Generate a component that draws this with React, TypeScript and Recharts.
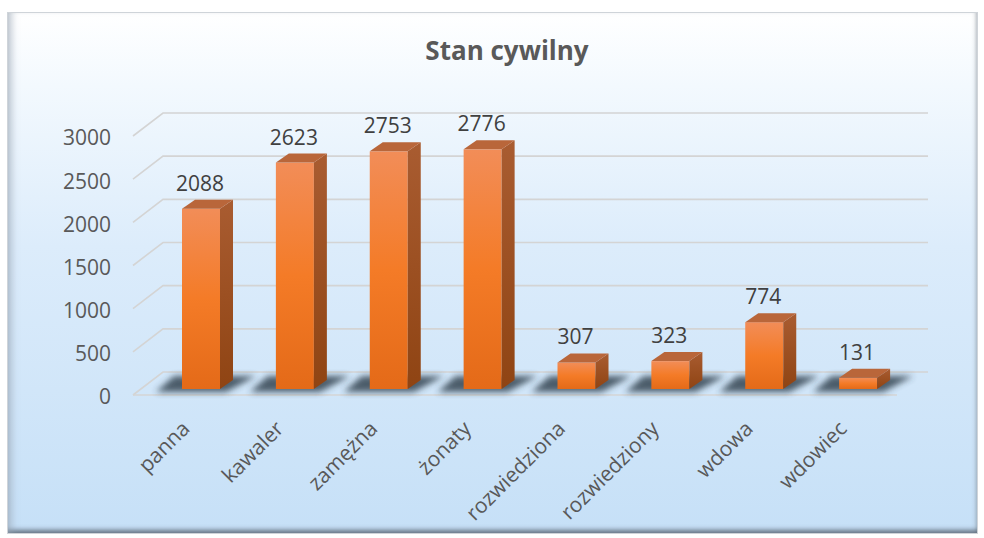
import React from "react";
import { BarChart, Bar, XAxis, YAxis, CartesianGrid, LabelList } from "recharts";

const categories = ["panna", "kawaler", "zamężna", "żonaty", "rozwiedziona", "rozwiedziony", "wdowa", "wdowiec"];
const counts = [2088, 2623, 2753, 2776, 307, 323, 774, 131];
const yTicks = [0, 500, 1000, 1500, 2000, 2500, 3000];
const title = "Stan cywilny";

const data = categories.map((c, i) => ({ name: c, value: counts[i] }));

const FONT = "'Open Sans', 'Noto Sans', sans-serif";
const DX = 13;
const DY = 9;
const LIFT = 6;

const Bar3D = (props: any) => {
  const { x, y, width, height } = props;
  const fy = y - LIFT;
  const by = y + height - LIFT;
  const sy = by + 3;
  return (
    <g>
      <polygon
        points={`${x - 26},${sy} ${x + width + 6},${sy} ${x + width + 36},${sy - 16} ${x - 8},${sy - 16}`}
        fill="#2c3a47"
        opacity={0.8}
        filter="url(#shadowBlur)"
      />
      <rect x={x} y={fy} width={width} height={Math.max(height, 0)} fill="url(#frontGrad)" />
      <polygon
        points={`${x + width},${fy} ${x + width + DX},${fy - DY} ${x + width + DX},${by - DY} ${x + width},${by}`}
        fill="url(#sideGrad)"
      />
      <polygon
        points={`${x},${fy} ${x + DX},${fy - DY} ${x + width + DX},${fy - DY} ${x + width},${fy}`}
        fill="#b9663a"
      />
    </g>
  );
};

const GridLine = (p: any) => {
  const { x1, x2, y1 } = p;
  const isZero = Math.abs(y1 - 395) < 2;
  return (
    <g key={`g-${y1}`}>
      <path
        d={`M${x1 - 21},${y1} L${x1 + 9},${y1 - 23} L${x2 + 23},${y1 - 23}`}
        stroke="#d4d4d4"
        strokeWidth={1.6}
        fill="none"
      />
      {isZero && (
        <path d={`M${x1 - 21},${y1} L${x2 - 8},${y1}`} stroke="#d4d4d4" strokeWidth={1.6} fill="none" />
      )}
    </g>
  );
};

const YTick = (p: any) => {
  const { y, payload } = p;
  return (
    <text x={111} y={y + 2} dy="0.35em" textAnchor="end" fill="#595959" fontSize={21} fontFamily={FONT}>
      {payload.value}
    </text>
  );
};

const XTick = (p: any) => {
  const { x, payload } = p;
  const ax = x - 10;
  const ay = 430;
  return (
    <text
      x={ax}
      y={ay}
      textAnchor="end"
      fill="#595959"
      fontSize={21}
      fontFamily={FONT}
      transform={`rotate(-45 ${ax} ${ay})`}
    >
      {payload.value}
    </text>
  );
};

const ValueLabel = (p: any) => {
  const { x, y, width, value } = p;
  return (
    <text x={x + width / 2 - 1} y={y - 24} textAnchor="middle" fill="#404040" fontSize={21} fontFamily={FONT}>
      {value}
    </text>
  );
};

export default function App() {
  return (
    <div style={{ position: "relative", width: 984, height: 538, background: "#ffffff" }}>
      <style>{`body{margin:0;}`}</style>
      <div
        style={{
          position: "absolute",
          left: 7,
          top: 12,
          width: 971,
          height: 522,
          boxSizing: "border-box",
          border: "1px solid #cfd4d9",
          background: "linear-gradient(180deg, #ffffff 0%, #f3f9fe 14%, #dcecfb 45%, #c6e0f7 100%)",
          boxShadow:
            "inset 9px 0 7px -5px rgba(150,162,176,0.55), inset 0 -6px 5px -3px rgba(70,80,92,0.75), inset -4px 0 4px -3px rgba(120,130,140,0.5)",
        }}
      />
      <div
        style={{
          position: "absolute",
          left: 0,
          width: 984,
          top: 32,
          textAlign: "center",
          paddingLeft: 30,
          boxSizing: "border-box",
          fontFamily: FONT,
          fontWeight: 700,
          fontSize: 26,
          color: "#595959",
        }}
      >
        {title}
      </div>
      <div style={{ position: "absolute", left: 0, top: 0 }}>
        <BarChart
          width={984}
          height={538}
          data={data}
          margin={{ top: 136, right: 79, bottom: 43, left: 94 }}
          barSize={38}
        >
          <defs>
            <linearGradient id="frontGrad" x1="0" y1="0" x2="0" y2="1">
              <stop offset="0%" stopColor="#f28d58" />
              <stop offset="50%" stopColor="#f47b27" />
              <stop offset="100%" stopColor="#e46a18" />
            </linearGradient>
            <linearGradient id="sideGrad" x1="0" y1="0" x2="0" y2="1">
              <stop offset="0%" stopColor="#a95c31" />
              <stop offset="100%" stopColor="#8f4413" />
            </linearGradient>
            <filter id="shadowBlur" x="-30%" y="-100%" width="160%" height="300%">
              <feGaussianBlur stdDeviation="3" />
            </filter>
          </defs>
          <CartesianGrid vertical={false} horizontal={GridLine as any} />
          <YAxis
            width={60}
            domain={[0, 3000]}
            ticks={yTicks}
            axisLine={false}
            tickLine={false}
            tick={<YTick />}
            interval={0}
          />
          <XAxis dataKey="name" height={100} axisLine={false} tickLine={false} tick={<XTick />} interval={0} />
          <Bar dataKey="value" shape={<Bar3D />} isAnimationActive={false}>
            <LabelList dataKey="value" content={<ValueLabel />} />
          </Bar>
        </BarChart>
      </div>
    </div>
  );
}
